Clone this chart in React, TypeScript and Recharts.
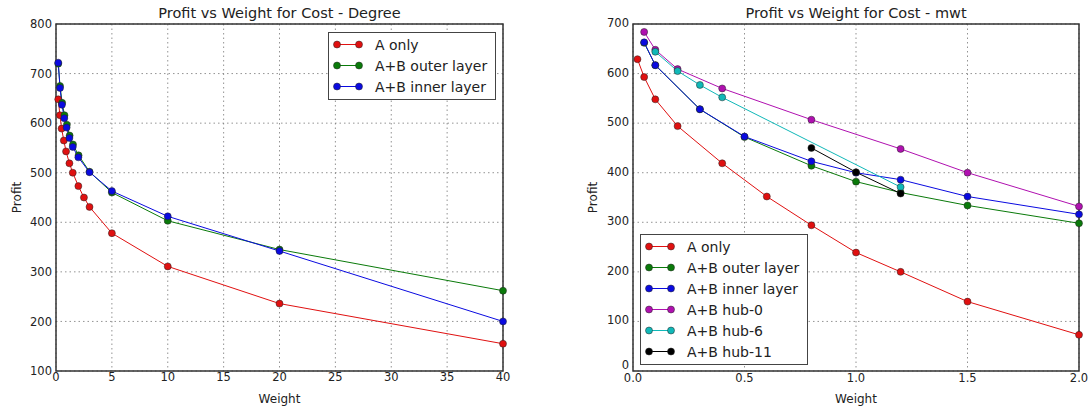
import React from "react";
import {
  LineChart,
  Line,
  XAxis,
  YAxis,
  CartesianGrid,
  ReferenceArea,
  Legend,
} from "recharts";

// ---- Degree chart data (left) ----
const degAOnly = [
  { w: 0.2, p: 648 }, { w: 0.35, p: 616 }, { w: 0.5, p: 589 }, { w: 0.7, p: 565 },
  { w: 0.9, p: 543 }, { w: 1.2, p: 519 }, { w: 1.5, p: 500 }, { w: 2, p: 473 },
  { w: 2.5, p: 450 }, { w: 3, p: 431 }, { w: 5, p: 378 }, { w: 10, p: 311 },
  { w: 20, p: 236 }, { w: 40, p: 155 },
];
const degOuter = [
  { w: 0.2, p: 720 }, { w: 0.36, p: 675 }, { w: 0.55, p: 641 }, { w: 0.76, p: 616 },
  { w: 0.97, p: 597 }, { w: 1.22, p: 575 }, { w: 1.52, p: 557 }, { w: 2.02, p: 535 },
  { w: 3, p: 502 }, { w: 5, p: 460 }, { w: 10, p: 403 }, { w: 20, p: 345 },
  { w: 40, p: 262 },
];
const degInner = [
  { w: 0.2, p: 722 }, { w: 0.36, p: 671 }, { w: 0.53, p: 637 }, { w: 0.74, p: 610 },
  { w: 0.95, p: 591 }, { w: 1.2, p: 570 }, { w: 1.5, p: 552 }, { w: 2, p: 531 },
  { w: 3, p: 501 }, { w: 5, p: 463 }, { w: 10, p: 412 }, { w: 20, p: 342 },
  { w: 40, p: 200 },
];
const degXTicks = [0, 5, 10, 15, 20, 25, 30, 35, 40];
const degYTicks = [100, 200, 300, 400, 500, 600, 700, 800];
const degNames = ["A only", "A+B outer layer", "A+B inner layer"];

// ---- mwt chart data (right) ----
const mwtAOnly = [
  { w: 0.02, p: 629 }, { w: 0.05, p: 593 }, { w: 0.1, p: 548 }, { w: 0.2, p: 494 },
  { w: 0.4, p: 419 }, { w: 0.6, p: 352 }, { w: 0.8, p: 294 }, { w: 1.0, p: 239 },
  { w: 1.2, p: 200 }, { w: 1.5, p: 140 }, { w: 2.0, p: 73 },
];
const mwtOuter = [
  { w: 0.05, p: 662 }, { w: 0.1, p: 617 }, { w: 0.3, p: 528 }, { w: 0.5, p: 472 },
  { w: 0.8, p: 414 }, { w: 1.0, p: 382 }, { w: 1.2, p: 360 }, { w: 1.5, p: 334 },
  { w: 2.0, p: 298 },
];
const mwtInner = [
  { w: 0.05, p: 663 }, { w: 0.1, p: 617 }, { w: 0.3, p: 528 }, { w: 0.5, p: 473 },
  { w: 0.8, p: 423 }, { w: 1.0, p: 400 }, { w: 1.2, p: 386 }, { w: 1.5, p: 352 },
  { w: 2.0, p: 316 },
];
const mwtHub0 = [
  { w: 0.05, p: 684 }, { w: 0.1, p: 648 }, { w: 0.2, p: 609 }, { w: 0.4, p: 570 },
  { w: 0.8, p: 507 }, { w: 1.2, p: 448 }, { w: 1.5, p: 400 }, { w: 2.0, p: 332 },
];
const mwtHub6 = [
  { w: 0.1, p: 644 }, { w: 0.2, p: 605 }, { w: 0.3, p: 577 }, { w: 0.4, p: 552 },
  { w: 1.2, p: 371 },
];
const mwtHub11 = [{ w: 0.8, p: 450 }, { w: 1.0, p: 401 }, { w: 1.2, p: 358 }];
const mwtXTicks = [0, 0.5, 1.0, 1.5, 2.0];
const mwtYTicks = [0, 100, 200, 300, 400, 500, 600, 700];
const mwtNames = [
  "A only",
  "A+B outer layer",
  "A+B inner layer",
  "A+B hub-0",
  "A+B hub-6",
  "A+B hub-11",
];

const FONT = "'DejaVu Sans', sans-serif";
const TXT = "#222";
const RED = "#e01010";
const GREEN = "#0a7a0a";
const BLUE = "#0a0ae0";
const MAGENTA = "#b010b0";
const CYAN = "#10b8b8";
const BLACK = "#000000";

function LegendBox(props: any) {
  const order: string[] = props.order || [];
  const items = [...(props.payload || [])].sort(
    (a: any, b: any) => order.indexOf(a.value) - order.indexOf(b.value)
  );
  return (
    <div
      style={{
        width: 168,
        boxSizing: "border-box",
        border: "1.5px solid #444",
        background: "#fff",
        padding: "1px 0 2px 0",
        fontFamily: FONT,
        fontSize: 14,
        color: TXT,
      }}
    >
      {items.map((it: any) => (
        <div key={it.value} style={{ height: 21, display: "flex", alignItems: "center" }}>
          <svg width={46} height={21} style={{ flex: "none" }}>
            <line x1={8} y1={10.5} x2={30} y2={10.5} stroke={it.color} strokeWidth={1} />
            <circle cx={8} cy={10.5} r={3.5} fill={it.color} stroke="#222" strokeWidth={0.5} />
            <circle cx={30} cy={10.5} r={3.5} fill={it.color} stroke="#222" strokeWidth={0.5} />
          </svg>
          <span style={{ whiteSpace: "nowrap" }}>{it.value}</span>
        </div>
      ))}
    </div>
  );
}

function profitLabel(dx: number) {
  return (p: any) => {
    const vb = p.viewBox || { x: 0, y: 24, width: 0, height: 347 };
    const x = vb.x + dx;
    const y = vb.y + vb.height / 2;
    return (
      <text
        x={x}
        y={y}
        transform={`rotate(-90 ${x} ${y})`}
        textAnchor="middle"
        dominantBaseline="central"
        fontFamily={FONT}
        fontSize={12}
        fill={TXT}
      >
        Profit
      </text>
    );
  };
}

const tickStyle = { fontSize: 11.5, fill: TXT, fontFamily: FONT };

// y tick that lifts the bottom "0" so it clears the x tick "0.0"
function MwtYTick(props: any) {
  const { x, y, payload } = props;
  const lift = payload.value === 0 ? 6 : 1;
  return (
    <text
      x={x}
      y={y - lift}
      textAnchor="end"
      dominantBaseline="central"
      fontSize={11.5}
      fill={TXT}
      fontFamily={FONT}
    >
      {payload.value}
    </text>
  );
}

function series(data: any[], name: string, color: string) {
  return (
    <Line
      key={name}
      data={data}
      dataKey="p"
      name={name}
      type="linear"
      stroke={color}
      strokeWidth={1}
      dot={{ r: 3.5, fill: color, stroke: "#222", strokeWidth: 0.5 }}
      activeDot={false}
      isAnimationActive={false}
      legendType="line"
    />
  );
}

const titleStyle: React.CSSProperties = {
  position: "absolute",
  top: 5,
  textAlign: "center",
  fontFamily: FONT,
  fontSize: 14.5,
  color: TXT,
  whiteSpace: "nowrap",
};

export default function App() {
  return (
    <div style={{ position: "absolute", left: 0, top: 0, width: 1088, height: 406, background: "#fff", overflow: "hidden" }}>
      {/* left: Degree */}
      <div style={{ position: "absolute", left: 0, top: 0, width: 540, height: 406 }}>
        <div style={{ ...titleStyle, left: 56, width: 447 }}>Profit vs Weight for Cost - Degree</div>
        <LineChart width={540} height={406} margin={{ top: 24, right: 37, bottom: 0, left: 0 }}>
          <CartesianGrid stroke="#777" strokeDasharray="1.5 3" strokeWidth={0.8} />
          <XAxis
            type="number"
            dataKey="w"
            domain={[0, 40]}
            ticks={degXTicks}
            allowDuplicatedCategory={false}
            height={35}
            axisLine={false}
            tickLine={false}
            tickSize={0}
            tickMargin={2}
            tick={tickStyle}
            label={{ value: "Weight", position: "insideBottom", offset: 3, fontSize: 12, fill: TXT, fontFamily: FONT }}
          />
          <YAxis
            type="number"
            dataKey="p"
            domain={[100, 800]}
            ticks={degYTicks}
            width={56}
            axisLine={false}
            tickLine={false}
            tickSize={0}
            tickMargin={4}
            tick={tickStyle}
            label={profitLabel(17)}
          />
          <ReferenceArea x1={0} x2={40} y1={100} y2={800} fill="none" stroke="#333" strokeWidth={1.5} />
          {series(degAOnly, degNames[0], RED)}
          {series(degOuter, degNames[1], GREEN)}
          {series(degInner, degNames[2], BLUE)}
          <Legend
            layout="vertical"
            align="center"
            verticalAlign="middle"
            content={<LegendBox order={degNames} />}
            wrapperStyle={{ left: 328, top: 32, width: 168, height: "auto" }}
          />
        </LineChart>
      </div>

      {/* right: mwt */}
      <div style={{ position: "absolute", left: 540, top: 0, width: 548, height: 406 }}>
        <div style={{ ...titleStyle, left: 93, width: 446 }}>Profit vs Weight for Cost - mwt</div>
        <LineChart width={548} height={406} margin={{ top: 24, right: 9, bottom: 0, left: 50 }}>
          <CartesianGrid stroke="#777" strokeDasharray="1.5 3" strokeWidth={0.8} />
          <XAxis
            type="number"
            dataKey="w"
            domain={[0, 2]}
            ticks={mwtXTicks}
            allowDuplicatedCategory={false}
            height={35}
            axisLine={false}
            tickLine={false}
            tickSize={0}
            tickMargin={3}
            tick={tickStyle}
            tickFormatter={(v: number) => v.toFixed(1)}
            label={{ value: "Weight", position: "insideBottom", offset: 3, fontSize: 12, fill: TXT, fontFamily: FONT }}
          />
          <YAxis
            type="number"
            dataKey="p"
            domain={[0, 700]}
            ticks={mwtYTicks}
            width={43}
            axisLine={false}
            tickLine={false}
            tickSize={0}
            tickMargin={4}
            tick={<MwtYTick />}
            label={profitLabel(3)}
          />
          <ReferenceArea x1={0} x2={2} y1={0} y2={700} fill="none" stroke="#333" strokeWidth={1.5} />
          {series(mwtAOnly, mwtNames[0], RED)}
          {series(mwtOuter, mwtNames[1], GREEN)}
          {series(mwtInner, mwtNames[2], BLUE)}
          {series(mwtHub0, mwtNames[3], MAGENTA)}
          {series(mwtHub6, mwtNames[4], CYAN)}
          {series(mwtHub11, mwtNames[5], BLACK)}
          <Legend
            layout="vertical"
            align="center"
            verticalAlign="middle"
            content={<LegendBox order={mwtNames} />}
            wrapperStyle={{ left: 100, top: 234, width: 168, height: "auto" }}
          />
        </LineChart>
      </div>
    </div>
  );
}
